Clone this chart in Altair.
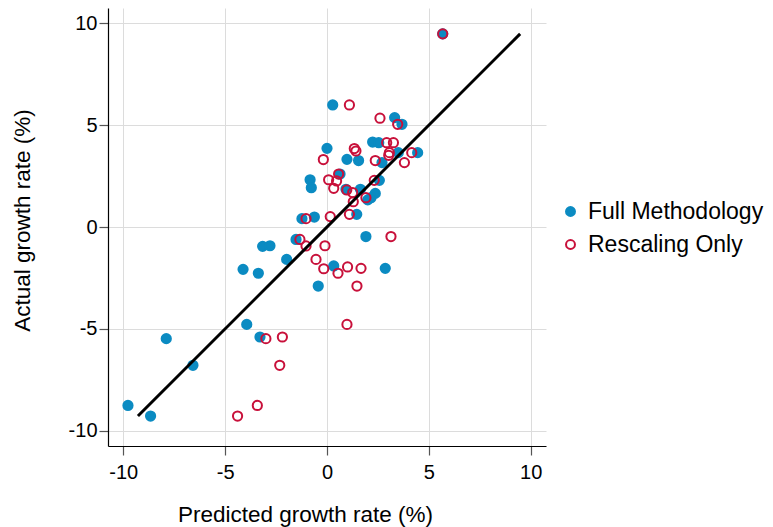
import altair as alt
import pandas as pd

series_names = ["Full Methodology", "Rescaling Only"]

full_pred = [5.68, 0.28, 3.32, 3.68, 2.24, 2.54, 0.0, 0.98, 1.55, 3.50, 4.45, 2.70, 0.64, -0.83,
             -0.77, 2.57, 0.93, 1.64, 2.37, 2.0, 2.16, 1.46, -1.23, -0.62, 1.91, -1.52, -3.16, -2.80,
             -1.98, -4.12, -3.37, 0.33, 2.86, -0.43, -3.94, -3.29, -7.89, -6.58, -9.77, -8.66]
full_actual = [9.48, 5.99, 5.37, 5.04, 4.17, 4.14, 3.86, 3.32, 3.26, 3.65, 3.65, 3.16, 2.60, 2.32,
               1.93, 2.29, 1.85, 1.85, 1.65, 1.33, 1.44, 0.62, 0.41, 0.49, -0.47, -0.61, -0.95, -0.92,
               -1.59, -2.08, -2.27, -1.91, -2.03, -2.90, -4.78, -5.40, -5.48, -6.79, -8.76, -9.28]

resc_pred = [5.68, 1.10, 2.60, 3.47, 1.34, 1.42, 2.93, 3.26, 3.06, 3.03, 4.16, -0.18, 2.37, 3.80,
             0.57, 0.08, 0.47, 0.33, 2.32, 0.97, 1.26, 1.91, 1.29, -1.03, 0.16, 1.10, -1.33, -1.03,
             -0.10, -0.54, -0.16, 1.01, 1.67, 0.54, 1.47, 3.14, 0.98, -3.0, -2.19, -2.32, -3.42, -4.39]
resc_actual = [9.48, 5.99, 5.34, 5.04, 3.85, 3.73, 4.14, 4.14, 3.65, 3.52, 3.65, 3.31, 3.26, 3.16,
               2.60, 2.32, 2.26, 1.90, 2.29, 1.82, 1.69, 1.44, 1.24, 0.41, 0.51, 0.62, -0.61, -0.93,
               -0.92, -1.59, -2.05, -1.96, -2.03, -2.27, -2.90, -0.47, -4.78, -5.48, -5.40, -6.79,
               -8.76, -9.28]

tick_values = [-10, -5, 0, 5, 10]

BLUE = "#0b8bc2"
RED = "#c8103a"
FONT = "Liberation Sans"

pts = pd.concat([
    pd.DataFrame({"pred": full_pred, "actual": full_actual, "series": series_names[0]}),
    pd.DataFrame({"pred": resc_pred, "actual": resc_actual, "series": series_names[1]}),
], ignore_index=True)

all_actual = full_actual + resc_actual
lo, hi = min(all_actual), max(all_actual)
line_df = pd.DataFrame({"pred": [lo, hi], "actual": [lo, hi]})

dom = [-10.75, 10.75]
xscale = alt.Scale(domain=dom, nice=False, zero=False)
yscale = alt.Scale(domain=dom, nice=False, zero=False)

label_expr = "'' + datum.value"

xaxis = alt.Axis(values=tick_values, title="Predicted growth rate (%)", tickSize=9,
                 labelPadding=7, titleX=197, titleY=75, titleBaseline="alphabetic",
                 titleAlign="center", labelExpr=label_expr)
yaxis = alt.Axis(values=tick_values, title="Actual growth rate (%)", tickSize=9,
                 labelPadding=2, titleX=-79, titleY=212, titleBaseline="alphabetic",
                 titleAlign="center", titleAngle=-90, labelExpr=label_expr)

leg = dict(title=None, orient="none", legendX=451, legendY=192,
           labelFontSize=23, labelFont=FONT, symbolSize=80, labelLimit=0,
           symbolStrokeWidth=2, labelOffset=6, rowPadding=9)

points = alt.Chart(pts).mark_point(shape="circle", filled=False, strokeWidth=2, size=85,
                                   opacity=1).encode(
    x=alt.X("pred:Q", scale=xscale, axis=xaxis),
    y=alt.Y("actual:Q", scale=yscale, axis=yaxis),
    color=alt.Color("series:N", scale=alt.Scale(domain=series_names, range=[BLUE, RED]),
                    legend=alt.Legend(**leg)),
    fill=alt.Fill("series:N", scale=alt.Scale(domain=series_names, range=[BLUE, "transparent"]),
                  legend=alt.Legend(**leg)),
)

line = alt.Chart(line_df).mark_line(color="black", strokeWidth=3).encode(
    x=alt.X("pred:Q", scale=xscale),
    y=alt.Y("actual:Q", scale=yscale),
)

chart = alt.layer(points, line).properties(
    width=438, height=438,
    padding={"left": 100, "top": 0, "right": 219, "bottom": 81},
    autosize=alt.AutoSizeParams(type="none"),
).configure(font=FONT).configure_view(stroke=None).configure_axis(
    labelFont=FONT, labelFontSize=20, labelColor="black", titleFont=FONT, titleFontSize=22.5,
    titleFontWeight="normal", titleColor="black", domainColor="black", domainWidth=1.2,
    tickColor="#555555", tickWidth=1.2, gridColor="#dcdcdc", gridWidth=1,
).configure_legend(labelColor="black")

chart.save("out.html", embed_options={"renderer": "svg", "actions": False})
